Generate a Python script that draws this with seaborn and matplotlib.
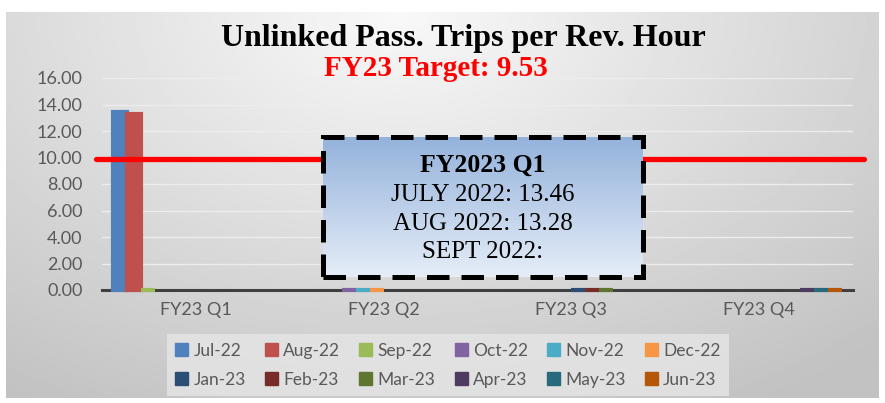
import numpy as np
import pandas as pd
import matplotlib
matplotlib.use("Agg")
import matplotlib.pyplot as plt
from matplotlib.patches import Patch, Rectangle
import seaborn as sns

# chart data
quarters = ["FY23 Q1", "FY23 Q2", "FY23 Q3", "FY23 Q4"]
months = ["Jul-22", "Aug-22", "Sep-22", "Oct-22", "Nov-22", "Dec-22",
          "Jan-23", "Feb-23", "Mar-23", "Apr-23", "May-23", "Jun-23"]
month_quarter = ["FY23 Q1"] * 3 + ["FY23 Q2"] * 3 + ["FY23 Q3"] * 3 + ["FY23 Q4"] * 3
month_values = [13.46, 13.28, 0.0, 0.0, 0.0, 0.0, 0.0, 0.0, 0.0, 0.0, 0.0, 0.0]
month_colors = ["#4F81BD", "#C0504D", "#9BBB59", "#8064A2", "#4BACC6", "#F79646",
                "#2C4D75", "#772C2A", "#5F7530", "#4D3B62", "#276A7C", "#B65708"]
y_ticks = [0, 2, 4, 6, 8, 10, 12, 14, 16]
target_value = 9.53      # value printed in the subtitle
target_line_y = 9.9      # where the red line sits in the picture
box_lines = ["JULY 2022: 13.46", "AUG 2022: 13.28", "SEPT 2022:"]

df = pd.DataFrame({"quarter": month_quarter, "month": months, "value": month_values})

sns.set_theme(style="white")
plt.rcParams["font.family"] = ["Lato", "DejaVu Sans"]

fig = plt.figure(figsize=(8.85, 4.03), dpi=100)
fig.patch.set_facecolor("white")

# grey gradient chart background
bg = fig.add_axes([0.007, 0.012, 0.986, 0.958], zorder=-5)
gx, gy = np.meshgrid(np.linspace(0, 1, 400), np.linspace(0, 1, 200))
dist = np.sqrt(((gx - 0.45) / 0.75) ** 2 + (gy / 1.1) ** 2)
shade = np.clip(0.975 - 0.2 * dist, 0.76, 1)
bg.imshow(shade, cmap="gray", vmin=0, vmax=1, aspect="auto", extent=(0, 1, 1, 0))
bg.set_axis_off()

ax = fig.add_axes([102 / 885, 1 - 290 / 403, 751 / 885, 212 / 403])
ax.set_facecolor("none")
sns.barplot(data=df, x="quarter", y="value", hue="month", order=quarters,
            hue_order=months, palette=month_colors, width=0.88, dodge=True,
            saturation=1, legend=False, ax=ax)
for bar, col in zip(ax.patches, month_colors):
    bar.set_edgecolor(col)
    bar.set_linewidth(3)
    bar.set_zorder(4)
    bar.set_clip_on(False)

ax.set_ylim(0, 16)
ax.set_xlim(-0.5, len(quarters) - 0.5)
ax.set_yticks(y_ticks)
ax.set_yticklabels([f"{v:.2f}" for v in y_ticks], color="#595959", fontsize=13)
ax.tick_params(axis="y", length=0, pad=14)
ax.tick_params(axis="x", which="major", length=0, pad=9, labelsize=13, labelcolor="#595959")
ax.set_xticks(np.arange(-0.5, len(quarters)), minor=True)
ax.tick_params(axis="x", which="minor", length=5, width=2, color="#404040", direction="out")
ax.set_xlabel("")
ax.set_ylabel("")
ax.grid(axis="y", color="#EDEDED", linewidth=1)
ax.set_axisbelow(True)
for side in ["left", "right", "top"]:
    ax.spines[side].set_visible(False)
ax.spines["bottom"].set_color("#404040")
ax.spines["bottom"].set_linewidth(2.2)

# target line, a little wider than the plot area
ax.axhline(target_line_y, xmin=-0.008, xmax=1.015, color="#FF0000", linewidth=3.8,
           clip_on=False, zorder=5)

fig.text(0.524, 0.905, "Unlinked Pass. Trips per Rev. Hour", ha="center", va="center",
         fontsize=23, fontweight="bold", family="Liberation Serif", color="black")
fig.text(0.493, 0.83, f"FY23 Target: {target_value:.2f}", ha="center", va="center",
         fontsize=21, fontweight="bold", family="Liberation Serif", color="#FF0000")

# callout box
bx = [323 / 885, 1 - 277 / 403, 320 / 885, 140 / 403]
box = fig.add_axes(bx, zorder=10)
grad = np.linspace(0, 1, 100).reshape(-1, 1)
top_c = np.array([0.58, 0.70, 0.86])
bot_c = np.array([0.90, 0.93, 0.97])
box.imshow(top_c + grad[..., None] * (bot_c - top_c), aspect="auto", extent=(0, 1, 0, 1))
box.set_axis_off()
box.text(0.5, 0.80, "FY2023 Q1", ha="center", va="center", transform=box.transAxes,
         fontsize=18.5, fontweight="bold", family="Liberation Serif", color="black")
for i, line in enumerate(box_lines):
    box.text(0.5, 0.586 - i * 0.204, line, ha="center", va="center", transform=box.transAxes,
             fontsize=18, family="Liberation Serif", color="black")
fig.patches.append(Rectangle((bx[0], bx[1]), bx[2], bx[3], transform=fig.transFigure,
                             fill=False, edgecolor="black", linewidth=3.6,
                             linestyle=(0, (4.5, 2.4)), zorder=11))

# legend fills row by row like the reference
ncol = 6
handles = [Patch(facecolor=c, edgecolor=c, label=m) for m, c in zip(months, month_colors)]
ordered = [handles[r * ncol + c] for c in range(ncol) for r in range(2)]
leg = fig.legend(handles=ordered, loc="center", bbox_to_anchor=(0.506, 0.094), ncol=ncol,
                 fontsize=12.5, frameon=True, handlelength=0.75, handleheight=0.75,
                 handletextpad=0.3, columnspacing=1.1, labelspacing=0.75,
                 borderpad=0.5, fancybox=False)
leg.get_frame().set_facecolor("#E6E6E6")
leg.get_frame().set_edgecolor("none")
for t in leg.get_texts():
    t.set_color("#595959")

fig.savefig("out.png", dpi=100)
